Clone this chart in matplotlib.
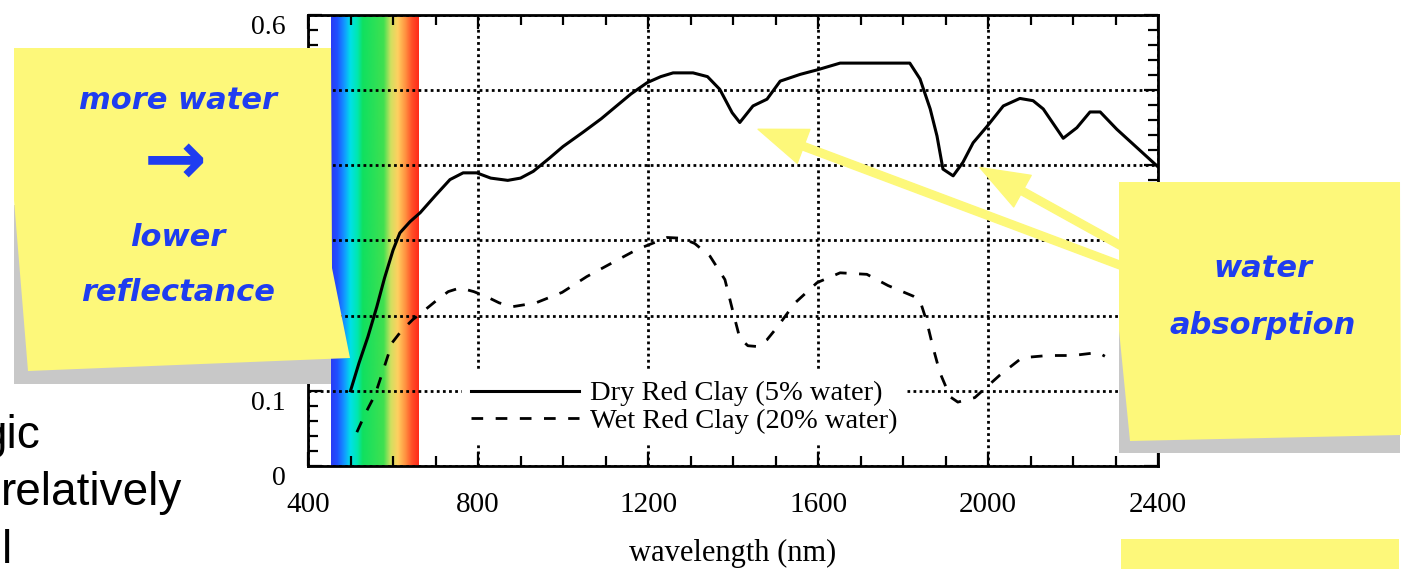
import matplotlib
matplotlib.use('Agg')
import matplotlib.pyplot as plt
import numpy as np
from matplotlib.colors import LinearSegmentedColormap
from matplotlib.patches import Polygon, Rectangle
from matplotlib.ticker import MultipleLocator, FixedLocator

plt.rcParams['font.family'] = 'Liberation Serif'

# Dry red clay (5% water)
dry_wl = [500, 520, 541, 562, 580, 600, 616, 640, 664, 700, 734, 765, 797, 830, 870,
          900, 930, 969, 1000, 1047, 1090, 1126, 1160, 1198, 1230, 1259, 1306, 1340,
          1369, 1398, 1416, 1447, 1480, 1511, 1558, 1598, 1652, 1816, 1840, 1864,
          1880, 1894, 1918, 1941, 1965, 1998, 2036, 2075, 2106, 2130, 2177, 2209,
          2240, 2264, 2303, 2400]
dry_refl = [0.100, 0.137, 0.172, 0.212, 0.250, 0.287, 0.310, 0.325, 0.337, 0.360,
            0.381, 0.390, 0.390, 0.383, 0.380, 0.383, 0.392, 0.410, 0.425, 0.444,
            0.462, 0.479, 0.495, 0.510, 0.518, 0.523, 0.523, 0.518, 0.501, 0.470,
            0.457, 0.479, 0.488, 0.512, 0.521, 0.527, 0.536, 0.536, 0.515, 0.475,
            0.439, 0.395, 0.386, 0.404, 0.430, 0.452, 0.479, 0.489, 0.486, 0.475,
            0.436, 0.450, 0.471, 0.471, 0.448, 0.398]

# Wet red clay (20% water)
wet_wl = [515, 535, 558, 579, 598, 620, 647, 661, 704, 730, 758, 790, 821, 850, 882,
          936, 998, 1056, 1118, 1174, 1245, 1280, 1310, 1346, 1381, 1400, 1416, 1435,
          1456, 1480, 1503, 1546, 1598, 1652, 1715, 1765, 1824, 1840, 1856, 1871,
          1887, 1911, 1929, 1969, 2028, 2080, 2141, 2200, 2259, 2275]
wet_refl = [0.045, 0.070, 0.095, 0.131, 0.164, 0.180, 0.195, 0.201, 0.221, 0.232,
            0.237, 0.232, 0.225, 0.217, 0.212, 0.217, 0.231, 0.252, 0.271, 0.288,
            0.304, 0.303, 0.296, 0.279, 0.248, 0.205, 0.170, 0.160, 0.159, 0.168,
            0.184, 0.217, 0.244, 0.257, 0.255, 0.240, 0.226, 0.220, 0.192, 0.157,
            0.124, 0.092, 0.085, 0.091, 0.121, 0.144, 0.147, 0.147, 0.151, 0.146]

visible_band = (454, 661)
band_colors = [(0.00, '#2a3cf5'), (0.07, '#2050ff'), (0.16, '#10a0ff'),
               (0.22, '#00e0e8'), (0.30, '#00e8b0'), (0.36, '#10e060'),
               (0.60, '#40e050'), (0.68, '#d0e060'), (0.76, '#ffd060'),
               (0.85, '#ff9040'), (0.92, '#ff5028'), (1.00, '#ff2a1a')]

xticks = [400, 800, 1200, 1600, 2000, 2400]
yticks = [0, 0.1, 0.2, 0.3, 0.4, 0.5, 0.6]
# 0.2 - 0.5 sit under the sticky note in the original
ytick_labels = ['0', '0.1', '', '', '', '', '0.6']

YELLOW = '#fdf87a'
BLUE = '#1f3df0'
SHADOW = '#c8c8c8'

W, H = 1405, 569
fig = plt.figure(figsize=(W / 100, H / 100), dpi=100)
ax = fig.add_axes([308 / W, 1 - 466 / H, 850 / W, 451 / H])

# spectrum strip
cmap = LinearSegmentedColormap.from_list('vis', band_colors)
ax.imshow(np.linspace(0, 1, 256)[None, :], cmap=cmap, aspect='auto',
          extent=(visible_band[0], visible_band[1], 0, 0.6), zorder=0)

ax.plot(dry_wl, dry_refl, color='black', lw=2.2, zorder=3,
        label='Dry Red Clay (5% water)')
ax.plot(wet_wl, wet_refl, color='black', lw=2.0, zorder=3,
        linestyle=(0, (4.2, 4.5)), label='Wet Red Clay (20% water)')

ax.set_xlim(400, 2400)
ax.set_ylim(0, 0.6)
ax.set_aspect('auto')
ax.xaxis.set_major_locator(FixedLocator(xticks))
ax.xaxis.set_minor_locator(MultipleLocator(100))
ax.yaxis.set_major_locator(FixedLocator(yticks))
ax.set_yticklabels(ytick_labels)
ax.yaxis.set_minor_locator(MultipleLocator(0.02))
ax.tick_params(which='both', direction='in', top=True, right=True, width=1.6)
ax.tick_params(which='major', length=10)
ax.tick_params(which='minor', length=7)
ax.tick_params(axis='x', labelsize=21, pad=19)
ax.tick_params(axis='y', labelsize=20, pad=16)
for lab in ax.get_yticklabels():
    lab.set_va('top')
for sp in ax.spines.values():
    sp.set_linewidth(2.0)
ax.grid(True, color='black', linestyle=(0, (1.0, 1.2)), lw=2.0)
ax.set_xlabel('wavelength (nm)', fontsize=22, labelpad=15)

leg = ax.legend(loc='upper left', bbox_to_anchor=((462 - 308) / 850, (466 - 372) / 451),
                frameon=True, fontsize=20.5, handlelength=3.8, handletextpad=0.4,
                labelspacing=0.05, borderpad=0.3, borderaxespad=0, fancybox=False)
leg.get_frame().set_edgecolor('white')
leg.get_frame().set_facecolor('white')
leg.get_frame().set_alpha(1)
leg.set_zorder(3.5)

# yellow arrows pointing at the absorption dips
arrow_style = 'simple,head_length=3.5,head_width=2.6,tail_width=0.55'
ax.annotate('', xy=(1459, 0.448), xycoords='data', xytext=(1125, H - 267),
            textcoords='figure pixels', annotation_clip=False,
            arrowprops=dict(arrowstyle=arrow_style, mutation_scale=10,
                            color=YELLOW, shrinkA=0, shrinkB=0), zorder=4)
ax.annotate('', xy=(1981, 0.397), xycoords='data', xytext=(1125, H - 248),
            textcoords='figure pixels', annotation_clip=False,
            arrowprops=dict(arrowstyle=arrow_style, mutation_scale=10,
                            color=YELLOW, shrinkA=0, shrinkB=0), zorder=4)

# overlay in pixel coordinates for the sticky notes
ov = fig.add_axes([0, 0, 1, 1], zorder=10)
ov.set_xlim(0, W)
ov.set_ylim(H, 0)
ov.axis('off')
ov.patch.set_alpha(0)

# left note
ov.add_patch(Rectangle((14, 205), 317, 179, color=SHADOW, lw=0))
ov.add_patch(Polygon([(14, 48), (331, 48), (332, 268), (350, 358), (28, 371), (14, 200)],
                     closed=True, color=YELLOW, lw=0))
note_font = dict(color=BLUE, fontsize=22, fontweight='bold', fontstyle='oblique',
                 family='DejaVu Sans', ha='center', va='center')
ov.text(178, 100, 'more water', **note_font)
ov.text(175, 163, '→', color=BLUE, fontsize=54, fontweight='bold', family='DejaVu Sans',
        ha='center', va='center')
ov.text(178, 237, 'lower', **note_font)
ov.text(178, 292, 'reflectance', **note_font)

# right note
ov.add_patch(Rectangle((1119, 320), 281, 133, color=SHADOW, lw=0))
ov.add_patch(Polygon([(1119, 182), (1400, 182), (1401, 435), (1130, 441), (1119, 330)],
                     closed=True, color=YELLOW, lw=0))
ov.text(1263, 268, 'water', **note_font)
ov.text(1263, 325, 'absorption', **note_font)
ov.add_patch(Rectangle((1121, 539), 278, 30, color=YELLOW, lw=0))

# leftover slide text at the lower left
side_font = dict(color='black', fontsize=33, family='Liberation Sans')
ov.text(40, 448, 'gic', ha='right', va='baseline', **side_font)
ov.text(182, 505, 'relatively', ha='right', va='baseline', **side_font)
ov.text(2, 563, 'l', ha='left', va='baseline', **side_font)

fig.savefig('out.png', dpi=100, facecolor='white')
